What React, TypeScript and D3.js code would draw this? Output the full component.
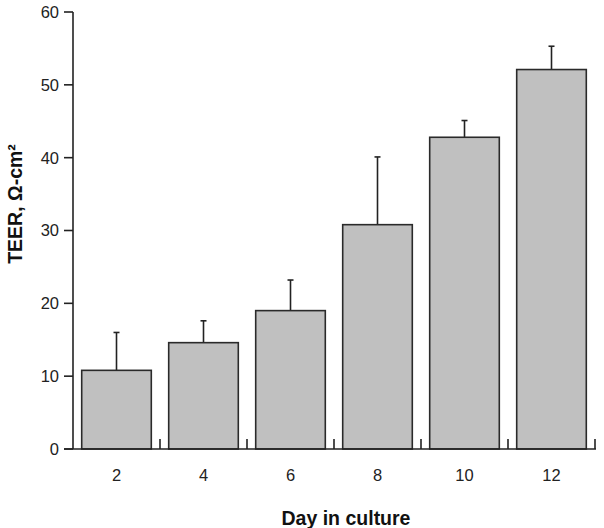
import React, { useEffect, useRef } from "react";
import * as d3 from "d3";

const days = ["2", "4", "6", "8", "10", "12"];
const teer = [10.8, 14.6, 19.0, 30.8, 42.8, 52.1];
const errUp = [16.0, 17.6, 23.2, 40.1, 45.1, 55.3];
const yTicks = [0, 10, 20, 30, 40, 50, 60];

const W = 604;
const H = 528;
const FONT = "'Liberation Sans', Arial, Helvetica, sans-serif";
const INK = "#222";

export default function App() {
  const ref = useRef<SVGSVGElement | null>(null);

  useEffect(() => {
    const svg = d3.select(ref.current);
    svg.selectAll("*").remove();

    const x = d3.scaleBand<string>().domain(days).range([73, 595]).paddingInner(0.2).paddingOuter(0.1);
    const y = d3.scaleLinear().domain([0, 60]).range([449, 12]);

    const data = days.map((d, i) => ({ day: d, v: teer[i], e: errUp[i] }));

    // error bars (drawn first so bar outline sits over the base)
    const err = svg.append("g").attr("stroke", INK).attr("stroke-width", 1.6);
    err.selectAll("line.stem").data(data).join("line")
      .attr("x1", d => x(d.day)! + x.bandwidth() / 2)
      .attr("x2", d => x(d.day)! + x.bandwidth() / 2)
      .attr("y1", d => y(d.v))
      .attr("y2", d => y(d.e));
    err.selectAll("line.cap").data(data).join("line")
      .attr("x1", d => x(d.day)! + x.bandwidth() / 2 - 3)
      .attr("x2", d => x(d.day)! + x.bandwidth() / 2 + 3)
      .attr("y1", d => y(d.e))
      .attr("y2", d => y(d.e));

    svg.append("g").selectAll("rect").data(data).join("rect")
      .attr("x", d => x(d.day)!)
      .attr("width", x.bandwidth())
      .attr("y", d => y(d.v))
      .attr("height", d => y(0) - y(d.v))
      .attr("fill", "#c0c0c0")
      .attr("stroke", "#2a2a2a")
      .attr("stroke-width", 1.6);

    // y axis
    const ya = svg.append("g").attr("stroke", INK).attr("stroke-width", 1.6);
    ya.append("line").attr("x1", 73).attr("x2", 73).attr("y1", y(60)).attr("y2", y(0));
    ya.selectAll("line.t").data(yTicks).join("line")
      .attr("x1", 64).attr("x2", 73)
      .attr("y1", d => y(d)).attr("y2", d => y(d));
    svg.append("g").selectAll("text").data(yTicks).join("text")
      .attr("x", 59)
      .attr("y", d => y(d))
      .attr("dy", "0.36em")
      .attr("text-anchor", "end")
      .attr("font-family", FONT)
      .attr("font-size", 16.5)
      .attr("fill", INK)
      .text(d => d);

    // x axis
    const xa = svg.append("g").attr("stroke", INK).attr("stroke-width", 1.6);
    xa.append("line").attr("x1", 64).attr("x2", 596).attr("y1", y(0)).attr("y2", y(0));
    const bounds = days.map(d => x(d)! + x.bandwidth() + (x.step() - x.bandwidth()) / 2);
    xa.selectAll("line.t").data(bounds).join("line")
      .attr("x1", d => d).attr("x2", d => d)
      .attr("y1", y(0)).attr("y2", y(0) - 10);
    svg.append("g").selectAll("text").data(days).join("text")
      .attr("x", d => x(d)! + x.bandwidth() / 2)
      .attr("y", 481)
      .attr("text-anchor", "middle")
      .attr("font-family", FONT)
      .attr("font-size", 16.5)
      .attr("fill", INK)
      .text(d => d);

    svg.append("text")
      .attr("x", 346).attr("y", 525)
      .attr("text-anchor", "middle")
      .attr("font-family", FONT)
      .attr("font-size", 19.5)
      .attr("font-weight", "bold")
      .attr("fill", "#111")
      .text("Day in culture");

    svg.append("text")
      .attr("transform", "translate(22,204) rotate(-90)")
      .attr("text-anchor", "middle")
      .attr("font-family", FONT)
      .attr("font-size", 19.5)
      .attr("font-weight", "bold")
      .attr("fill", "#111")
      .text("TEER, Ω-cm²");
  }, []);

  return (
    <svg ref={ref} width={W} height={H} style={{ position: "absolute", left: 0, top: 0, background: "#fff" }} />
  );
}
